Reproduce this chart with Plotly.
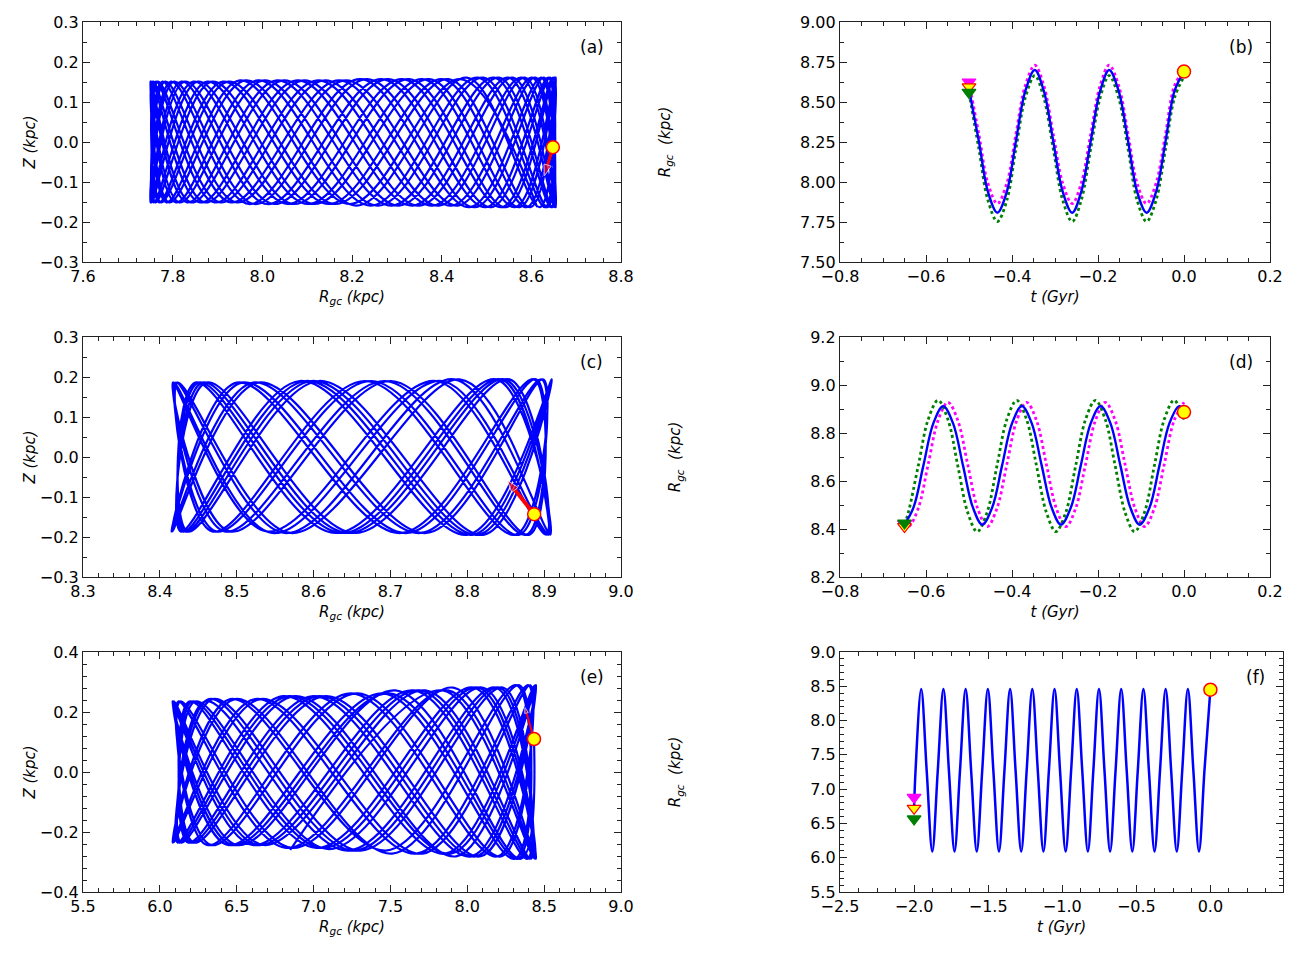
import plotly.graph_objects as go
from plotly.subplots import make_subplots

# ---------------- data ----------------
# (a) meridional orbit: R and Z at the successive Z turning points
r_a = [8.648, 8.651, 8.544, 8.327, 8.071, 7.856, 7.753, 7.796, 7.970, 8.218, 8.463,
       8.622, 8.647, 8.528, 8.305, 8.048, 7.841, 7.751, 7.807, 7.990, 8.242,
       8.481, 8.631, 8.642, 8.511, 8.281, 8.026, 7.827, 7.750, 7.819, 8.011,
       8.266, 8.499, 8.638, 8.636, 8.493, 8.258, 8.004, 7.815, 7.750, 7.832,
       8.033, 8.289, 8.517, 8.644, 8.628, 8.475, 8.234, 7.983, 7.803, 7.751,
       7.846, 8.056, 8.312, 8.534, 8.648, 8.619, 8.456, 8.210, 7.963, 7.792,
       7.754, 7.861, 8.078, 8.335, 8.549, 8.652, 8.609, 8.436, 8.187, 7.943,
       7.783, 7.758, 7.877, 8.101, 8.357, 8.564, 8.654, 8.598, 8.415, 8.163,
       7.924, 7.774, 7.763, 7.894, 8.124, 8.380, 8.578, 8.655, 8.586, 8.394,
       8.140, 7.906, 7.767, 7.770, 7.912, 8.148, 8.401, 8.590, 8.655, 8.574,
       8.372, 8.116, 7.888, 7.762, 7.777, 7.930, 8.171, 8.422, 8.602, 8.654,
       8.559, 8.350, 8.093, 7.872, 7.757, 7.786, 7.950, 8.195, 8.442, 8.613]
z_a = [-0.013, 0.161, -0.163, 0.157, -0.155, 0.151, -0.151, 0.151, -0.155, 0.157, -0.163,
       0.161, -0.163, 0.161, -0.159, 0.154, -0.151, 0.151, -0.151, 0.154, -0.159,
       0.161, -0.163, 0.161, -0.163, 0.157, -0.155, 0.151, -0.151, 0.151, -0.155,
       0.157, -0.163, 0.161, -0.163, 0.161, -0.159, 0.154, -0.151, 0.151, -0.151,
       0.154, -0.159, 0.161, -0.163, 0.161, -0.163, 0.157, -0.155, 0.151, -0.151,
       0.151, -0.155, 0.157, -0.163, 0.161, -0.163, 0.161, -0.159, 0.154, -0.151,
       0.151, -0.151, 0.154, -0.159, 0.161, -0.163, 0.161, -0.159, 0.154, -0.151,
       0.151, -0.151, 0.151, -0.155, 0.157, -0.163, 0.161, -0.163, 0.157, -0.155,
       0.151, -0.151, 0.151, -0.151, 0.154, -0.159, 0.161, -0.163, 0.161, -0.159,
       0.154, -0.151, 0.151, -0.151, 0.151, -0.155, 0.157, -0.163, 0.161, -0.163,
       0.157, -0.155, 0.151, -0.151, 0.151, -0.151, 0.154, -0.159, 0.161, -0.163,
       0.161, -0.159, 0.154, -0.151, 0.151, -0.151, 0.154, -0.155, 0.157, -0.163]

# (c)
r_c = [8.887, 8.906, 8.844, 8.637, 8.450, 8.433, 8.598, 8.815, 8.910, 8.808, 8.590,
       8.430, 8.455, 8.645, 8.849, 8.905, 8.767, 8.546, 8.418, 8.484, 8.693,
       8.877, 8.890, 8.722, 8.507, 8.415, 8.521, 8.739, 8.897, 8.868, 8.675,
       8.473, 8.421, 8.562, 8.783, 8.908, 8.838, 8.628, 8.446, 8.436, 8.607,
       8.822, 8.910, 8.801, 8.582, 8.427, 8.460, 8.654, 8.855, 8.903, 8.759,
       8.539, 8.417, 8.491, 8.701, 8.881, 8.887, 8.714, 8.500, 8.416, 8.528,
       8.747, 8.899, 8.863, 8.667, 8.468, 8.423, 8.570, 8.790, 8.871]
z_c = [-0.143, -0.194, 0.194, -0.190, 0.186, -0.186, 0.190, -0.194, 0.194, -0.194, 0.190,
       -0.186, 0.186, -0.190, 0.194, -0.194, 0.190, -0.190, 0.186, -0.186, 0.190,
       -0.194, 0.194, -0.190, 0.186, -0.186, 0.186, -0.190, 0.194, -0.194, 0.190,
       -0.186, 0.186, -0.190, 0.194, -0.194, 0.194, -0.190, 0.186, -0.186, 0.190,
       -0.194, 0.194, -0.194, 0.190, -0.186, 0.186, -0.190, 0.194, -0.194, 0.190,
       -0.186, 0.186, -0.186, 0.190, -0.194, 0.194, -0.190, 0.186, -0.186, 0.186,
       -0.190, 0.194, -0.194, 0.190, -0.186, 0.186, -0.190, 0.194, -0.020]

# (e)
r_e = [8.434, 8.348, 7.532, 6.503, 6.082, 6.602, 7.651, 8.392, 8.236, 7.306, 6.344,
       6.115, 6.802, 7.858, 8.441, 8.088, 7.080, 6.219, 6.191, 7.019, 8.043,
       8.447, 7.910, 6.860, 6.132, 6.306, 7.244, 8.199, 8.410, 7.709, 6.655,
       6.087, 6.457, 7.471, 8.321, 8.330, 7.491, 6.472, 6.085, 6.637, 7.690,
       8.404, 8.211, 7.265, 6.319, 6.126, 6.840, 7.893, 8.446, 8.058, 7.039,
       6.200, 6.209, 7.059, 8.073, 8.443, 7.875, 6.821, 6.120, 6.331, 7.286,
       8.224, 8.398, 7.670, 6.620, 6.083, 6.488, 7.511, 8.339, 8.311, 7.450,
       6.442, 6.089, 6.673, 7.728, 8.415, 8.186, 7.224, 6.294, 6.138, 6.879,
       7.928, 8.448, 8.027, 6.998, 6.183, 6.229, 7.100, 8.103, 8.439, 7.840, 6.848]
z_e = [0.110, -0.289, 0.272, -0.243, 0.235, -0.243, 0.272, -0.289, 0.281, -0.262, 0.243,
       -0.235, 0.253, -0.272, 0.289, -0.281, 0.253, -0.235, 0.235, -0.253, 0.281,
       -0.289, 0.281, -0.253, 0.235, -0.243, 0.262, -0.281, 0.289, -0.272, 0.243,
       -0.235, 0.243, -0.262, 0.289, -0.289, 0.262, -0.243, 0.235, -0.243, 0.272,
       -0.289, 0.281, -0.262, 0.243, -0.235, 0.253, -0.272, 0.289, -0.281, 0.253,
       -0.235, 0.235, -0.253, 0.281, -0.289, 0.272, -0.253, 0.235, -0.243, 0.262,
       -0.281, 0.289, -0.272, 0.243, -0.235, 0.243, -0.272, 0.289, -0.289, 0.262,
       -0.243, 0.235, -0.243, 0.272, -0.289, 0.281, -0.262, 0.235, -0.235, 0.253,
       -0.281, 0.289, -0.281, 0.253, -0.235, 0.235, -0.257, 0.281, -0.289, 0.272, -0.260]

# velocity arrows (tail = present position, head) for a, c, e
arrow_a = [[8.648, 8.629], [-0.013, -0.085]]
arrow_c = [[8.887, 8.852], [-0.143, -0.058]]
arrow_e = [[8.434, 8.375], [0.110, 0.215]]

# (b) R(t)
t_b = [-0.500, -0.477, -0.456, -0.434, -0.412, -0.391, -0.369, -0.347, -0.326, -0.304,
       -0.282, -0.260, -0.239, -0.217, -0.195, -0.174, -0.152, -0.130, -0.109, -0.087,
       -0.065, -0.043, -0.022, 0.000]
rb_blue = [8.580, 8.254, 7.939, 7.808, 7.939, 8.254, 8.569, 8.700, 8.569, 8.254,
           7.939, 7.808, 7.939, 8.254, 8.569, 8.700, 8.569, 8.254, 7.939, 7.808,
           7.939, 8.254, 8.569, 8.690]
rb_mag = [8.620, 8.298, 7.992, 7.865, 7.992, 8.298, 8.603, 8.730, 8.603, 8.298,
          7.992, 7.865, 7.992, 8.298, 8.603, 8.730, 8.603, 8.298, 7.992, 7.865,
          7.992, 8.298, 8.603, 8.700]
rb_grn = [8.555, 8.207, 7.886, 7.753, 7.886, 8.207, 8.527, 8.665, 8.527, 8.207,
          7.886, 7.753, 7.886, 8.207, 8.527, 8.665, 8.527, 8.207, 7.886, 7.753,
          7.886, 8.207, 8.527, 8.660]

# (d) R(t)
td_blue = [-0.650, -0.629, -0.606, -0.583, -0.560, -0.537, -0.514, -0.491, -0.469, -0.446,
           -0.423, -0.400, -0.377, -0.354, -0.331, -0.308, -0.286, -0.263, -0.240, -0.217,
           -0.194, -0.171, -0.148, -0.125, -0.103, -0.080, -0.057, -0.034, -0.011, 0.000]
rd_blue = [8.419, 8.490, 8.665, 8.840, 8.912, 8.840, 8.665, 8.490, 8.418, 8.490,
           8.665, 8.840, 8.912, 8.840, 8.665, 8.490, 8.418, 8.490, 8.665, 8.840,
           8.912, 8.840, 8.665, 8.490, 8.418, 8.490, 8.665, 8.840, 8.912, 8.893]
td_grn = [-0.650, -0.641, -0.618, -0.595, -0.572, -0.549, -0.526, -0.503, -0.481, -0.458,
          -0.435, -0.412, -0.389, -0.366, -0.343, -0.320, -0.298, -0.275, -0.252, -0.229,
          -0.206, -0.183, -0.160, -0.137, -0.115, -0.092, -0.069, -0.046, -0.023, 0.000]
rd_grn = [8.418, 8.469, 8.663, 8.856, 8.936, 8.856, 8.663, 8.469, 8.389, 8.469,
          8.663, 8.856, 8.936, 8.856, 8.663, 8.469, 8.389, 8.469, 8.663, 8.856,
          8.936, 8.856, 8.663, 8.469, 8.389, 8.469, 8.663, 8.856, 8.936, 8.856]
td_mag = [-0.650, -0.6405, -0.618, -0.595, -0.572, -0.549, -0.526, -0.503, -0.480, -0.4575,
          -0.435, -0.412, -0.389, -0.366, -0.343, -0.320, -0.297, -0.2745, -0.252, -0.229,
          -0.206, -0.183, -0.160, -0.137, -0.114, -0.0915, -0.069, -0.046, -0.023, 0.000]
rd_mag = [8.424, 8.410, 8.486, 8.669, 8.852, 8.928, 8.852, 8.669, 8.486, 8.410,
          8.486, 8.669, 8.852, 8.928, 8.852, 8.669, 8.486, 8.410, 8.486, 8.669,
          8.852, 8.928, 8.852, 8.669, 8.486, 8.410, 8.486, 8.669, 8.852, 8.928]

# (f) R(t)
t_f = [-2.000, -1.990,
       -1.952, -1.915, -1.877, -1.840, -1.802, -1.765, -1.727, -1.690,
       -1.652, -1.615, -1.577, -1.540, -1.502, -1.465, -1.427, -1.390,
       -1.352, -1.315, -1.277, -1.240, -1.202, -1.165, -1.127, -1.090,
       -1.052, -1.015, -0.977, -0.940, -0.902, -0.865, -0.827, -0.790,
       -0.752, -0.715, -0.677, -0.640, -0.602, -0.565, -0.527, -0.490,
       -0.452, -0.415, -0.377, -0.340, -0.302, -0.265, -0.227, -0.190,
       -0.152, -0.115, -0.077, -0.040,
       0.000]
r_f = [6.72, 7.275,
       8.46, 7.275, 6.09, 7.275, 8.46, 7.275, 6.09, 7.275,
       8.46, 7.275, 6.09, 7.275, 8.46, 7.275, 6.09, 7.275,
       8.46, 7.275, 6.09, 7.275, 8.46, 7.275, 6.09, 7.275,
       8.46, 7.275, 6.09, 7.275, 8.46, 7.275, 6.09, 7.275,
       8.46, 7.275, 6.09, 7.275, 8.46, 7.275, 6.09, 7.275,
       8.46, 7.275, 6.09, 7.275, 8.46, 7.275, 6.09, 7.275,
       8.46, 7.275, 6.09, 7.275,
       8.455]

# start (triangles: magenta, yellow, green) and present (circle) positions
start_b = [-0.50, [8.625, 8.595, 8.560]]
start_d = [-0.65, [8.420, 8.410, 8.425]]
start_f = [-2.00, [6.880, 6.720, 6.565]]
now_b = [0.0, 8.690]
now_d = [0.0, 8.887]
now_f = [0.0, 8.450]

panel_labels = ["(a)", "(b)", "(c)", "(d)", "(e)", "(f)"]

# ---------------- figure ----------------
BLUE = "#0000ff"
MAG = "#ff00ff"
GRN = "#007f00"
FONT = "DejaVu Sans"

fig = make_subplots(rows=3, cols=2)


def orbit(r, z, row, col, width=2):
    fig.add_trace(go.Scatter(x=r, y=z, mode="lines",
                             line=dict(color=BLUE, width=width, shape="spline", smoothing=1),
                             hoverinfo="skip", showlegend=False), row=row, col=col)


def arrow(a, row, col, width=3, head=10):
    fig.add_trace(go.Scatter(x=a[0], y=a[1], mode="lines+markers",
                             line=dict(color="red", width=width),
                             marker=dict(symbol="arrow", size=[0, head], angleref="previous", color="red"),
                             hoverinfo="skip", showlegend=False), row=row, col=col)


def now_marker(x, y, row, col):
    fig.add_trace(go.Scatter(x=[x], y=[y], mode="markers",
                             marker=dict(symbol="circle", size=13, color="#ffff00",
                                         line=dict(color="red", width=1.5)),
                             hoverinfo="skip", showlegend=False), row=row, col=col)


def rline(t, r, color, dash, width, row, col):
    fig.add_trace(go.Scatter(x=t, y=r, mode="lines",
                             line=dict(color=color, width=width, dash=dash, shape="spline", smoothing=1),
                             hoverinfo="skip", showlegend=False), row=row, col=col)


def start_markers(s, row, col):
    fill = [MAG, "#ffff00", GRN]
    edge = [MAG, "red", GRN]
    for yv, fc, ec in zip(s[1], fill, edge):
        fig.add_trace(go.Scatter(x=[s[0]], y=[yv], mode="markers",
                                 marker=dict(symbol="triangle-down", size=12, color=fc,
                                             line=dict(color=ec, width=1.2)),
                                 hoverinfo="skip", showlegend=False), row=row, col=col)


# left column: meridional orbits
orbit(r_a, z_a, 1, 1, 2.2)
arrow(arrow_a, 1, 1, 3, 12)
now_marker(r_a[0], z_a[0], 1, 1)

orbit(r_c, z_c, 2, 1, 2.2)
arrow(arrow_c, 2, 1, 4, 13)
now_marker(r_c[0], z_c[0], 2, 1)

orbit(r_e, z_e, 3, 1, 2.2)
arrow(arrow_e, 3, 1, 2, 6)
now_marker(r_e[0], z_e[0], 3, 1)

# right column: R(t)
rline(t_b, rb_mag, MAG, "dot", 2.8, 1, 2)
rline(t_b, rb_grn, GRN, "dot", 2.8, 1, 2)
rline(t_b, rb_blue, BLUE, "solid", 2.4, 1, 2)
start_markers(start_b, 1, 2)
now_marker(now_b[0], now_b[1], 1, 2)

rline(td_mag, rd_mag, MAG, "dot", 2.8, 2, 2)
rline(td_grn, rd_grn, GRN, "dot", 2.8, 2, 2)
rline(td_blue, rd_blue, BLUE, "solid", 2.4, 2, 2)
start_markers(start_d, 2, 2)
now_marker(now_d[0], now_d[1], 2, 2)

rline(t_f, r_f, BLUE, "solid", 2.5, 3, 2)
start_markers(start_f, 3, 2)
now_marker(now_f[0], now_f[1], 3, 2)

# axes: the page has an 8 px body margin, so the figure is 1283x939
PAD = 8
W, H = 1299 - 2 * PAD, 955 - 2 * PAD


def xdom(a, b):
    return [(a - PAD) / W, (b - PAD) / W]


def ydom(top, bottom):
    return [1 - (bottom - PAD) / H, 1 - (top - PAD) / H]


left_dom = xdom(83, 621)
right_dom = xdom(840, 1270)
rows_dom = [ydom(22, 262), ydom(337, 577), ydom(652, 892)]

rgc = "<i>R<sub>gc</sub> (kpc)</i>"
rgc_y = "<i>R<sub>gc</sub>  (kpc)</i>"
zt = "<i>Z (kpc)</i>"
tt = "<i>t (Gyr)</i>"

# (range, dtick, minor dtick, format, title)
xspecs = [
    ([7.6, 8.8], 0.2, 0.04, ".1f", rgc),
    ([-0.8, 0.2], 0.2, 0.05, ".1f", tt),
    ([8.3, 9.0], 0.1, 0.02, ".1f", rgc),
    ([-0.8, 0.2], 0.2, 0.05, ".1f", tt),
    ([5.5, 9.0], 0.5, 0.1, ".1f", rgc),
    ([-2.5, 0.49], 0.5, 0.125, ".1f", tt),
]
yspecs = [
    ([-0.3, 0.3], 0.1, 0.05, ".1f", zt),
    ([7.5, 9.0], 0.25, 0.125, ".2f", rgc_y),
    ([-0.3, 0.3], 0.1, 0.05, ".1f", zt),
    ([8.2, 9.2], 0.2, 0.1, ".1f", rgc_y),
    ([-0.4, 0.4], 0.2, 0.04, ".1f", zt),
    ([5.5, 9.0], 0.5, 0.1, ".1f", rgc_y),
]


def axis_style(spec, domain, standoff):
    rng, dt, mdt, fmt, title = spec
    return dict(
        domain=domain, range=rng, dtick=dt, tick0=0, tickformat=fmt,
        ticks="inside", ticklen=7, tickwidth=1.2, tickcolor="#222",
        mirror="allticks", showline=True, linecolor="#222", linewidth=1.3,
        showgrid=False, zeroline=False, automargin=False,
        minor=dict(ticks="inside", ticklen=4, tickwidth=1, dtick=mdt, tick0=0, tickcolor="#222", showgrid=False),
        tickfont=dict(size=16, family=FONT, color="black"),
        title=dict(text=title, font=dict(size=15, family=FONT, color="black"), standoff=standoff),
    )


label_x = [0.946, 0.933, 0.946, 0.933, 0.946, 0.937]
for i in range(6):
    row = i // 2
    col = i % 2
    xd = left_dom if col == 0 else right_dom
    if i == 5:
        xd = xdom(840, 1283)
    suffix = "" if i == 0 else str(i + 1)
    fig.layout["xaxis" + suffix].update(axis_style(xspecs[i], xd, 6))
    fig.layout["yaxis" + suffix].update(axis_style(yspecs[i], rows_dom[row], 0 if col == 0 else 125))
    fig.add_annotation(text=panel_labels[i], xref="x" + suffix + " domain", yref="y" + suffix + " domain",
                       x=label_x[i], y=0.896, xanchor="center", yanchor="middle", showarrow=False,
                       font=dict(size=17, family=FONT, color="black"))

fig.update_layout(
    width=W, height=H,
    margin=dict(l=0, r=0, t=0, b=0),
    paper_bgcolor="white", plot_bgcolor="white",
    font=dict(family=FONT, size=15, color="black"),
    showlegend=False,
)

fig.write_html("out.html")
